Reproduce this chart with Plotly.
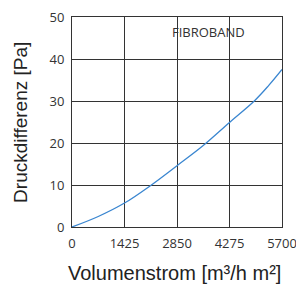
import plotly.graph_objects as go

# Data
flow = [0, 712, 1425, 2137, 2850, 3562, 4275, 4948, 5330, 5700]
pressure = [0, 2.5, 5.7, 9.9, 14.6, 19.4, 24.9, 30.0, 33.6, 37.5]

x_ticks = [0, 1425, 2850, 4275, 5700]
y_ticks = [0, 10, 20, 30, 40, 50]

fig = go.Figure()
fig.add_trace(go.Scatter(x=flow, y=pressure, mode="lines",
                         line=dict(color="#3a86d0", width=1.3, shape="spline", smoothing=1.0),
                         showlegend=False, hoverinfo="skip"))

axis_common = dict(showgrid=True, gridcolor="#333333", gridwidth=1,
                   showline=True, linecolor="#333333", linewidth=1, mirror=True,
                   zeroline=False, ticks="", ticklabeloverflow="allow", automargin=False,
                   tickfont=dict(family="Open Sans", size=13, color="#333333"))

fig.update_xaxes(range=[0, 5700], tickvals=x_ticks, ticktext=[str(v) for v in x_ticks],
                 ticklabelstandoff=4, **axis_common)
fig.update_yaxes(range=[0, 50], tickvals=y_ticks, ticktext=[str(v) for v in y_ticks],
                 ticklabelstandoff=4, **axis_common)

fig.add_annotation(x=0.652, y=0.929, xref="paper", yref="paper", text="FIBROBAND",
                   showarrow=False, font=dict(family="Open Sans", size=13, color="#333333"),
                   xanchor="center", yanchor="middle")
fig.add_annotation(x=-0.248, y=0.5, xref="paper", yref="paper", text="Druckdifferenz [Pa]",
                   textangle=-90, showarrow=False,
                   font=dict(family="Liberation Sans", size=19, color="#222222"),
                   xanchor="center", yanchor="middle")
fig.add_annotation(x=0.49, y=-0.219, xref="paper", yref="paper", text="Volumenstrom [m³/h m²]",
                   showarrow=False,
                   font=dict(family="Liberation Sans", size=20, color="#222222"),
                   xanchor="center", yanchor="middle")

fig.update_layout(width=296, height=287, margin=dict(l=72, r=14, t=17, b=60),
                  paper_bgcolor="white", plot_bgcolor="white")

fig.write_html("out.html",
               config={"displayModeBar": False, "staticPlot": True},
               post_script="document.body.style.margin='0';document.body.style.overflow='hidden';")
